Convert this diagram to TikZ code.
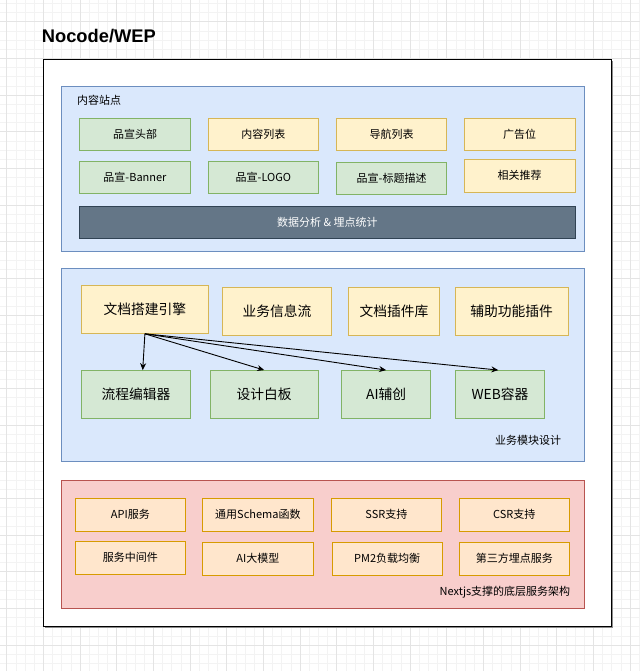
\documentclass[tikz,border=0pt]{standalone}
\usepackage{fontspec}
\setmainfont{Noto Sans CJK SC}
\newfontfamily\titlefont{Liberation Sans}
\usetikzlibrary{arrows.meta}
\definecolor{gridminor}{HTML}{F3F3F3}
\definecolor{gridmajor}{HTML}{E4E4E4}
\definecolor{bluefill}{HTML}{DAE8FC}
\definecolor{blueline}{HTML}{6C8EBF}
\definecolor{redfill}{HTML}{F8CECC}
\definecolor{redline}{HTML}{B85450}
\definecolor{greenfill}{HTML}{D5E8D4}
\definecolor{greenline}{HTML}{82B366}
\definecolor{yellowfill}{HTML}{FFF2CC}
\definecolor{yellowline}{HTML}{D6B656}
\definecolor{orangefill}{HTML}{FFE6CC}
\definecolor{orangeline}{HTML}{D79B00}
\definecolor{barfill}{HTML}{647687}
\definecolor{barline}{HTML}{314354}

\begin{document}
\begin{tikzpicture}[x=1pt,y=-1pt,
  box/.style={line width=0.9pt, inner sep=0pt, minimum width=110.5pt, minimum height=32.5pt,
    font=\fontsize{11}{13}\selectfont},
  gbox/.style={box, fill=greenfill, draw=greenline},
  ybox/.style={box, fill=yellowfill, draw=yellowline},
  obox/.style={box, fill=orangefill, draw=orangeline},
  bigbox/.style={minimum height=47.7pt, font=\fontsize{13.75}{16}\selectfont},
  caption/.style={inner sep=0pt, font=\fontsize{11}{13}\selectfont},
  link/.style={-{Stealth[length=7pt,width=6pt]}, line width=0.9pt}]
\useasboundingbox (0,0) rectangle (640,671);
% background grid
\foreach \i in {0,...,70}
  \draw[gridminor, line width=0.6pt] ({-2.5+9.1667*\i},0) -- ({-2.5+9.1667*\i},671);
\foreach \i in {0,...,74}
  \draw[gridminor, line width=0.6pt] (0,{-5.8+9.1667*\i}) -- (640,{-5.8+9.1667*\i});
\foreach \i in {0,...,17}
  \draw[gridmajor, line width=0.8pt] ({6.7+36.667*\i},0) -- ({6.7+36.667*\i},671);
\foreach \i in {0,...,17}
  \draw[gridmajor, line width=0.8pt] (0,{21.7+36.667*\i}) -- (640,{21.7+36.667*\i});

\node[anchor=base west, inner sep=0pt, font=\titlefont\bfseries\fontsize{18.3}{22}\selectfont]
  at (41.7,42.7) (title) {Nocode/WEP};
\fill[black!45] (45,61) rectangle (613.3,628.3);
\draw[fill=white, line width=1.1pt] (43.3,59.3) rectangle (611.7,626.7);

% content site
\draw[fill=bluefill, draw=blueline, line width=0.9pt] (61.8,86) rectangle (584.6,251.3);
\node[caption, anchor=west] at (76.8,100) (site) {内容站点};
\node[gbox] at (135,134.5) (head) {品宣头部};
\node[ybox] at (263.4,134.5) (list) {内容列表};
\node[ybox] at (391.6,134.5) (nav) {导航列表};
\node[ybox] at (519.7,134.5) (ad) {广告位};
\node[gbox] at (135,177.5) (banner) {品宣-Banner};
\node[gbox] at (263.4,177.5) (logo) {品宣-LOGO};
\node[gbox] at (391.6,178.5) (desc) {品宣-标题描述};
\node[ybox] at (519.7,175.7) (rec) {相关推荐};
\node[box, fill=barfill, draw=barline, text=white, minimum width=495.4pt]
  at (327.3,222.3) (stats) {数据分析 \& 埋点统计};

% business modules
\draw[fill=bluefill, draw=blueline, line width=0.9pt] (61.8,268.3) rectangle (584.6,461.7);
\node[ybox, bigbox, minimum width=126.8pt] at (144.9,309.5) (engine) {文档搭建引擎};
\node[ybox, bigbox, minimum width=109pt] at (277,311.2) (feed) {业务信息流};
\node[ybox, bigbox, minimum width=90.2pt] at (393.9,311.2) (plugins) {文档插件库};
\node[ybox, bigbox, minimum width=112.5pt] at (511.7,311.2) (helper) {辅助功能插件};
\node[gbox, bigbox, minimum width=108.9pt] at (135.9,394.4) (flow) {流程编辑器};
\node[gbox, bigbox, minimum width=108.5pt] at (264.2,394.4) (board) {设计白板};
\node[gbox, bigbox, minimum width=88.6pt] at (386.1,394.4) (ai) {AI辅创};
\node[gbox, bigbox, minimum width=89.1pt] at (500,394.4) (web) {WEB容器};
\node[caption, anchor=east] at (561.4,440) (modules) {业务模块设计};
\draw[link] (engine.south) -- ([xshift=6.8pt]flow.north);
\draw[link] (engine.south) -- (board.north);
\draw[link] (engine.south) -- (ai.north);
\draw[link] (engine.south) -- ([xshift=-1.7pt]web.north);

% service layer
\draw[fill=redfill, draw=redline, line width=0.9pt] (61.8,480) rectangle (584.6,608.3);
\node[obox] at (130.4,514.7) (api) {API服务};
\node[obox] at (257.9,514.7) (schema) {通用Schema函数};
\node[obox] at (386.4,514.7) (ssr) {SSR支持};
\node[obox] at (514.3,514.7) (csr) {CSR支持};
\node[obox] at (130.4,557.7) (mid) {服务中间件};
\node[obox] at (257.9,558.7) (llm) {AI大模型};
\node[obox] at (387.2,558.7) (pm2) {PM2负载均衡};
\node[obox] at (514.3,558.7) (track) {第三方埋点服务};
\node[caption, anchor=east] at (570.4,591.7) (infra) {Nextjs支撑的底层服务架构};
\end{tikzpicture}
\end{document}
